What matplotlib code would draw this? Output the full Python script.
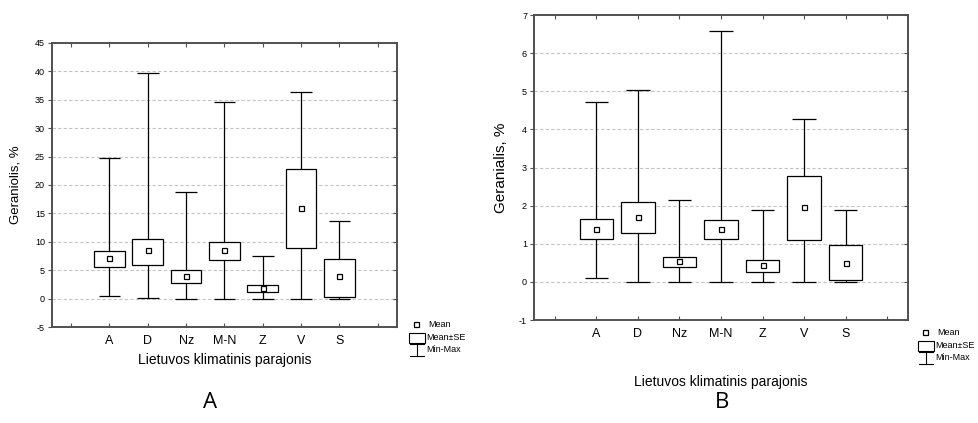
import matplotlib
matplotlib.use("Agg")
import matplotlib.pyplot as plt
from matplotlib.patches import Rectangle
from matplotlib.lines import Line2D

plt.rcParams['font.family'] = ['Liberation Sans', 'DejaVu Sans']

regions = ["A", "D", "Nz", "M-N", "Z", "V", "S"]

# Geraniolis, %
ger_mean = [7.1, 8.5, 3.9, 8.5, 1.8, 15.9, 3.9]
ger_box_lo = [5.5, 6.0, 2.7, 6.8, 1.1, 8.9, 0.3]
ger_box_hi = [8.3, 10.5, 5.1, 10.0, 2.4, 22.9, 7.0]
ger_min = [0.5, 0.1, 0.0, 0.0, 0.0, 0.0, 0.0]
ger_max = [24.7, 39.8, 18.8, 34.7, 7.5, 36.3, 13.6]

# Geranialis, %
gel_mean = [1.40, 1.71, 0.55, 1.40, 0.45, 1.97, 0.50]
gel_box_lo = [1.12, 1.27, 0.38, 1.12, 0.25, 1.10, 0.04]
gel_box_hi = [1.66, 2.10, 0.66, 1.62, 0.57, 2.77, 0.96]
gel_min = [0.11, 0.0, 0.0, 0.0, 0.0, 0.0, 0.0]
gel_max = [4.71, 5.03, 2.14, 6.57, 1.88, 4.28, 1.88]

W, H = 979, 423
fig = plt.figure(figsize=(W / 100, H / 100), dpi=100)
fig.patch.set_facecolor("white")

SPINE = "#505050"
BOX_W = 0.8
CAP_W = 0.56


def px_axes(x0, y0, x1, y1):
    return fig.add_axes([x0 / W, 1 - y1 / H, (x1 - x0) / W, (y1 - y0) / H])


def draw_panel(ax, mean, lo, hi, mn, mx, ylim, yticks, ylabel, ylabel_size,
               ytick_size, ylab_x, xlab_y):
    pos = list(range(1, len(regions) + 1))
    ax.set_xlim(-0.5, 8.5)
    ax.set_ylim(*ylim)
    for y in yticks[1:-1]:
        ax.axhline(y, color="#c4c4c4", lw=0.8, ls=(0, (3, 2)), zorder=0)
    ax.vlines(pos, mn, mx, color="black", lw=0.9, zorder=2)
    ax.hlines(mn, [p - CAP_W / 2 for p in pos], [p + CAP_W / 2 for p in pos],
              color="black", lw=0.9, zorder=2)
    ax.hlines(mx, [p - CAP_W / 2 for p in pos], [p + CAP_W / 2 for p in pos],
              color="black", lw=0.9, zorder=2)
    heights = [h - l for h, l in zip(hi, lo)]
    ax.bar(pos, heights, bottom=lo, width=BOX_W, facecolor="white",
           edgecolor="black", linewidth=0.9, zorder=3)
    ax.plot(pos, mean, ls="none", marker="s", ms=3.6, mfc="white",
            mec="black", mew=0.9, zorder=4)

    ax.set_yticks(yticks)
    ax.set_yticklabels([str(v) for v in yticks], fontsize=ytick_size)
    ax.set_xticks(range(0, 9))
    ax.set_xticklabels([""] + regions + [""], fontsize=9)
    ax.tick_params(axis="y", direction="out", length=3, width=0.8,
                   color=SPINE, right=False, pad=2)
    ax.tick_params(axis="x", direction="in", length=3, width=0.8,
                   color=SPINE, top=True, pad=6)
    for sp in ax.spines.values():
        sp.set_color(SPINE)
        sp.set_linewidth(1.4)
    ax.set_ylabel(ylabel, fontsize=ylabel_size)
    ax.yaxis.set_label_coords(ylab_x, 0.5)
    ax.set_xlabel("Lietuvos klimatinis parajonis", fontsize=10)
    ax.xaxis.set_label_coords(0.5, xlab_y)

    # inward ticks on the right-hand frame
    tw = ax.twinx()
    tw.set_ylim(*ylim)
    tw.set_yticks(yticks)
    tw.tick_params(axis="y", direction="in", length=3, width=0.8,
                   color=SPINE, labelright=False)
    for sp in tw.spines.values():
        sp.set_visible(False)


def legend_px(x, y):
    # small key: mean marker, SE box, min-max whisker; (x, y) = marker centre
    def fx(v):
        return v / W

    def fy(v):
        return 1 - v / H
    fig.add_artist(Line2D([fx(x)], [fy(y)], ls="none", marker="s", ms=3.6,
                          mfc="white", mec="black", mew=0.9))
    fig.add_artist(Rectangle((fx(x - 7), fy(y + 19)), 16 / W, 10 / H,
                             facecolor="white", edgecolor="black", lw=0.8))
    fig.add_artist(Line2D([fx(x - 6), fx(x + 8)], [fy(y + 20)] * 2,
                          color="black", lw=0.8))
    fig.add_artist(Line2D([fx(x + 1)] * 2, [fy(y + 20), fy(y + 32)],
                          color="black", lw=0.8))
    fig.add_artist(Line2D([fx(x - 6), fx(x + 8)], [fy(y + 32)] * 2,
                          color="black", lw=0.8))
    fig.text(fx(x + 12), fy(y), "Mean", fontsize=6.5, va="center")
    fig.text(fx(x + 10), fy(y + 13), "Mean\u00b1SE", fontsize=6.5, va="center")
    fig.text(fx(x + 10), fy(y + 25), "Min-Max", fontsize=6.5, va="center")


ax1 = px_axes(52, 43, 397, 327)
draw_panel(ax1, ger_mean, ger_box_lo, ger_box_hi, ger_min, ger_max,
           (-5, 45), list(range(-5, 50, 5)), "Geraniolis, %", 9.5, 6.5,
           -0.087, -0.09)

ax2 = px_axes(534, 15, 908, 320)
draw_panel(ax2, gel_mean, gel_box_lo, gel_box_hi, gel_min, gel_max,
           (-1, 7), list(range(-1, 8)), "Geranialis, %", 11, 6.5,
           -0.07, -0.18)

legend_px(416, 324)
legend_px(925, 332)

fig.text(210 / W, 1 - 402 / H, "A", fontsize=16, family="Open Sans",
         ha="center", va="center")
fig.text(722 / W, 1 - 402 / H, "B", fontsize=16, family="Open Sans",
         ha="center", va="center")

fig.savefig("out.png", dpi=100, facecolor="white")
